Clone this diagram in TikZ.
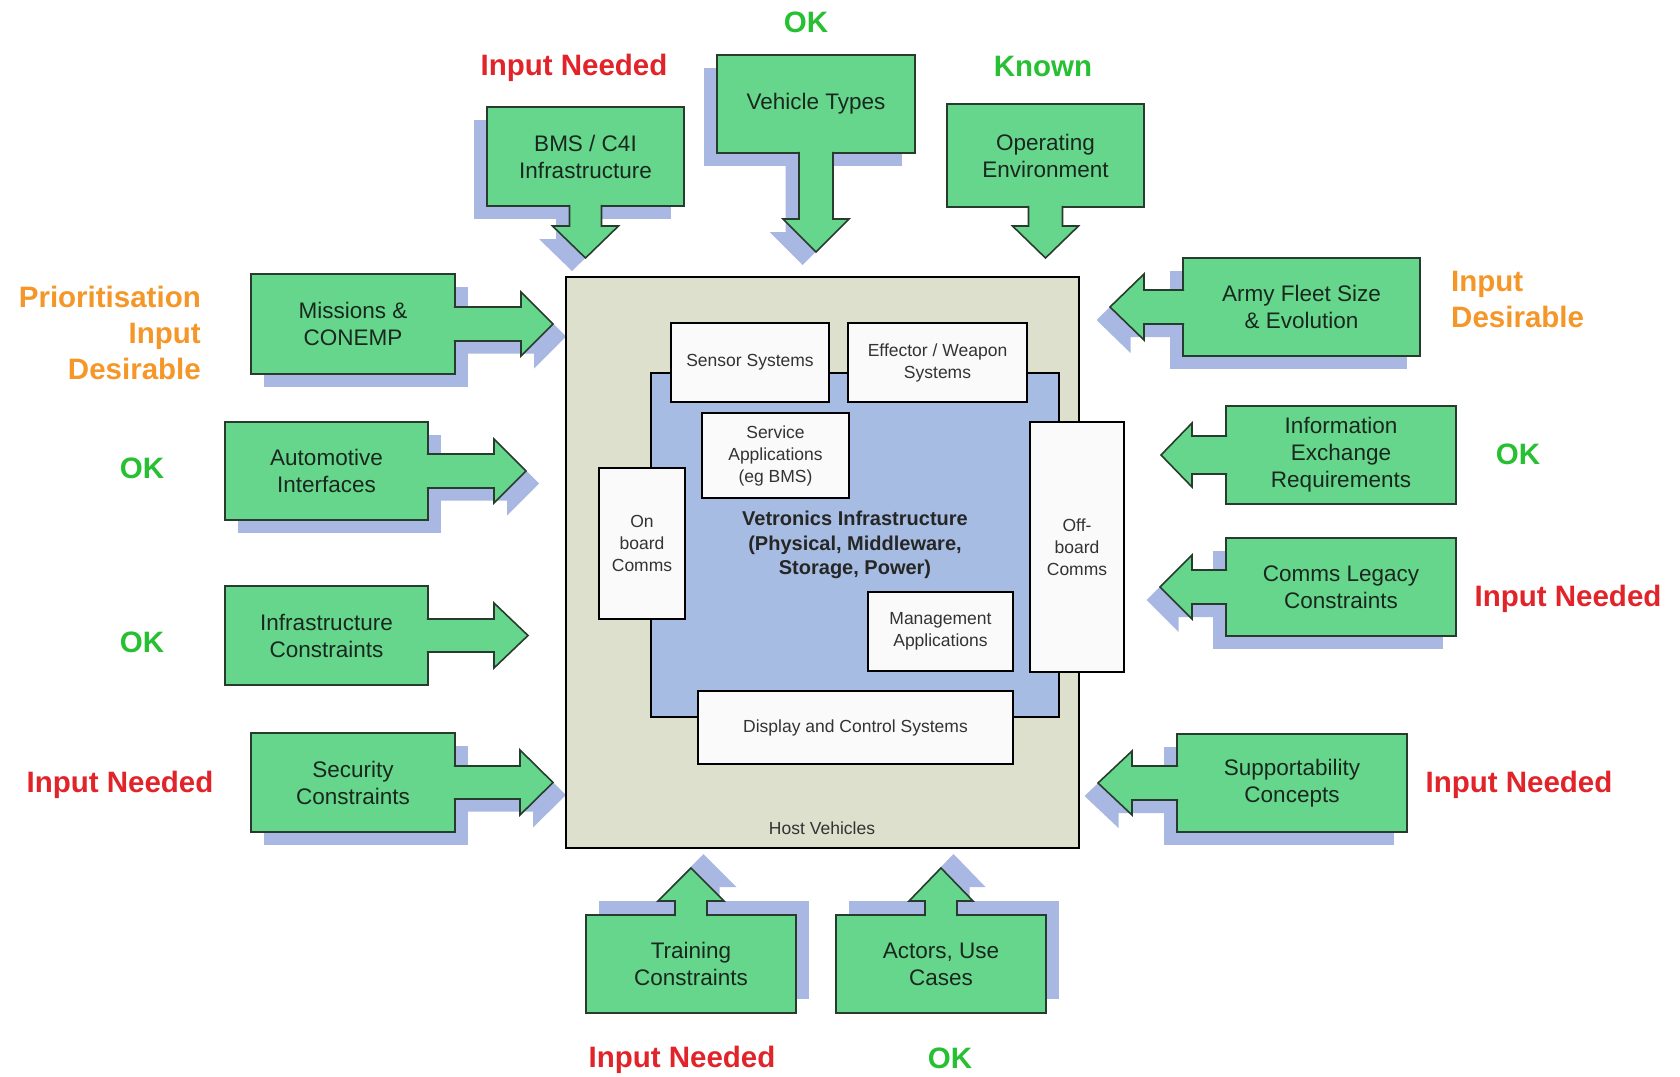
\documentclass[tikz,border=0pt]{standalone}
\usepackage{fontspec}
\setmainfont{Liberation Sans}
\usepackage{xcolor}
\usepackage{tikz}
\usetikzlibrary{calc, shadows}

\definecolor{boxgreen}{RGB}{102,214,140}
\definecolor{boxline}{RGB}{40,60,45}
\definecolor{boxtext}{RGB}{25,40,30}
\definecolor{shadowblue}{RGB}{168,184,226}
\definecolor{hostfill}{RGB}{221,224,205}
\definecolor{vetblue}{RGB}{166,188,226}
\definecolor{whitebox}{RGB}{250,250,250}
\definecolor{needred}{RGB}{225,35,42}
\definecolor{okgreen}{RGB}{38,192,50}
\definecolor{desorange}{RGB}{245,150,40}

\begin{document}
\begin{tikzpicture}[x=1pt,y=-1pt]
	\tikzstyle{callbox}=[rectangle,draw=boxline,fill=boxgreen,line width=1.6pt,outer sep=0pt,inner sep=0pt,align=center,text=boxtext,font=\fontsize{22.5}{27}\selectfont]
	\tikzstyle{callarrow}=[draw=boxline,fill=boxgreen,line width=1.6pt,line join=miter]
	\tikzstyle{shadowdl}=[drop shadow={fill=shadowblue,opacity=1,shadow xshift=-13.5pt,shadow yshift=-13pt}]
	\tikzstyle{shadowdr}=[drop shadow={fill=shadowblue,opacity=1,shadow xshift=13pt,shadow yshift=-12.5pt}]
	\tikzstyle{shadowur}=[drop shadow={fill=shadowblue,opacity=1,shadow xshift=12.5pt,shadow yshift=14pt}]
	\tikzstyle{inbox}=[rectangle,draw=black,fill=whitebox,line width=1.6pt,outer sep=0pt,inner sep=0pt,align=center,text=black!80,font=\fontsize{17.5}{22}\selectfont]
	\tikzstyle{lbl}=[inner sep=0pt,font=\bfseries\fontsize{29.5}{36}\selectfont]
	\useasboundingbox (0,0) rectangle (1680,1076);

	% inputs from above
	\node[callbox,shadowdl,minimum width=197pt,minimum height=99pt](bms) at (585.5,156.5){BMS / C4I\\Infrastructure};
	\draw[callarrow,shadowdl] ($(bms.south)+(-16,-1.2)$) -- ++(0,21.2) -- ++(-17,0) -- ++(33,32) -- ++(33,-32) -- ++(-17,0) -- ++(0,-21.2);
	\node[callbox,shadowdl,minimum width=198pt,minimum height=98pt](veh) at (816,104){Vehicle Types};
	\draw[callarrow,shadowdl] ($(veh.south)+(-17,-1.2)$) -- ++(0,67.2) -- ++(-16,0) -- ++(33,33) -- ++(33,-33) -- ++(-16,0) -- ++(0,-67.2);
	\node[callbox,minimum width=197pt,minimum height=103pt](openv) at (1045.5,155.5){Operating\\Environment};
	\draw[callarrow] ($(openv.south)+(-17,-1.2)$) -- ++(0,20.2) -- ++(-16,0) -- ++(33,32) -- ++(33,-32) -- ++(-16,0) -- ++(0,-20.2);

	% inputs from the left
	\node[callbox,shadowdr,minimum width=204pt,minimum height=100pt](mis) at (353,324){Missions \&\\CONEMP};
	\draw[callarrow,shadowdr] ($(mis.east)+(-1.2,-17)$) -- ++(67.2,0) -- ++(0,-15) -- ++(32,32) -- ++(-32,32) -- ++(0,-15) -- ++(-67.2,0);
	\node[callbox,shadowdr,minimum width=203pt,minimum height=98pt](auto) at (326.5,471){Automotive\\Interfaces};
	\draw[callarrow,shadowdr] ($(auto.east)+(-1.2,-17)$) -- ++(67.2,0) -- ++(0,-15) -- ++(32,32) -- ++(-32,32) -- ++(0,-15) -- ++(-67.2,0);
	\node[callbox,minimum width=203pt,minimum height=99pt](infra) at (326.5,635.5){Infrastructure\\Constraints};
	\draw[callarrow] ($(infra.east)+(-1.2,-16.5)$) -- ++(67.2,0) -- ++(0,-16) -- ++(34,32.5) -- ++(-34,32.5) -- ++(0,-16) -- ++(-67.2,0);
	\node[callbox,shadowdr,minimum width=204pt,minimum height=99pt](sec) at (353,782.5){Security\\Constraints};
	\draw[callarrow,shadowdr] ($(sec.east)+(-1.2,-16.5)$) -- ++(66.2,0) -- ++(0,-16) -- ++(33,32.5) -- ++(-33,32.5) -- ++(0,-16) -- ++(-66.2,0);

	% inputs from the right
	\node[callbox,shadowdl,minimum width=237pt,minimum height=98pt](fleet) at (1301.5,307){Army Fleet Size\\\& Evolution};
	\draw[callarrow,shadowdl] ($(fleet.west)+(1.2,-17)$) -- ++(-40.2,0) -- ++(0,-16) -- ++(-34,33) -- ++(34,33) -- ++(0,-16) -- ++(40.2,0);
	\node[callbox,minimum width=230pt,minimum height=98pt](ier) at (1341,455){Information\\Exchange\\Requirements};
	\draw[callarrow] ($(ier.west)+(1.2,-19)$) -- ++(-35.2,0) -- ++(0,-13) -- ++(-31,32) -- ++(31,32) -- ++(0,-13) -- ++(35.2,0);
	\node[callbox,shadowdl,minimum width=230pt,minimum height=98pt](legacy) at (1341,587){Comms Legacy\\Constraints};
	\draw[callarrow,shadowdl] ($(legacy.west)+(1.2,-17)$) -- ++(-35.2,0) -- ++(0,-15) -- ++(-32,32) -- ++(32,32) -- ++(0,-15) -- ++(35.2,0);
	\node[callbox,shadowdl,minimum width=230pt,minimum height=98pt](supp) at (1292,783){Supportability\\Concepts};
	\draw[callarrow,shadowdl] ($(supp.west)+(1.2,-17)$) -- ++(-46.2,0) -- ++(0,-15) -- ++(-34,32) -- ++(34,32) -- ++(0,-15) -- ++(46.2,0);

	% inputs from below
	\node[callbox,shadowur,minimum width=210pt,minimum height=98pt](train) at (691,964){Training\\Constraints};
	\draw[callarrow,shadowur] ($(train.north)+(-16,1.2)$) -- ++(0,-15.2) -- ++(-17,0) -- ++(33,-33) -- ++(33,33) -- ++(-17,0) -- ++(0,15.2);
	\node[callbox,shadowur,minimum width=210pt,minimum height=98pt](actors) at (941,964){Actors, Use\\Cases};
	\draw[callarrow,shadowur] ($(actors.north)+(-16,1.2)$) -- ++(0,-15.2) -- ++(-16,0) -- ++(32,-33) -- ++(32,33) -- ++(-16,0) -- ++(0,15.2);

	% host vehicle and vetronics
	\node[rectangle,draw=black,fill=hostfill,line width=1.6pt,minimum width=513pt,minimum height=571pt,outer sep=0pt](host) at (822.5,562.5){};
	\node[inner sep=0pt,text=black!80,font=\fontsize{17.5}{20}\selectfont](hostlbl) at (822,828){Host Vehicles};
	\node[rectangle,draw=black,fill=vetblue,line width=1.6pt,minimum width=408pt,minimum height=344pt,outer sep=0pt,align=center,text=black!85,font=\bfseries\fontsize{20}{24.5}\selectfont](vet) at (855,545){Vetronics Infrastructure\\(Physical, Middleware,\\Storage, Power)};
	\node[inbox,minimum width=158pt,minimum height=79pt](sensor) at (750,362.5){Sensor Systems};
	\node[inbox,minimum width=179pt,minimum height=79pt](effector) at (937.5,362.5){Effector / Weapon\\Systems};
	\node[inbox,minimum width=147pt,minimum height=85pt](service) at (775.5,455.5){Service\\Applications\\(eg BMS)};
	\node[inbox,minimum width=86pt,minimum height=151pt](onboard) at (642,543.5){On\\board\\Comms};
	\node[inbox,minimum width=94pt,minimum height=250pt](offboard) at (1077,547){Off-\\board\\Comms};
	\node[inbox,minimum width=145pt,minimum height=79pt](mgmt) at (940.5,631.5){Management\\Applications};
	\node[inbox,minimum width=315pt,minimum height=73pt](display) at (855.5,727.5){Display and Control Systems};

	% status labels
	\node[lbl,text=okgreen](stveh) at (806,22){OK};
	\node[lbl,text=needred](stbms) at (574,68){Input Needed};
	\node[lbl,text=okgreen](stenv) at (1043,66){Known};
	\node[lbl,text=desorange,align=right,anchor=east](stmis) at (201,332.5){Prioritisation\\Input\\Desirable};
	\node[lbl,text=okgreen](stauto) at (142,468){OK};
	\node[lbl,text=okgreen](stinfra) at (142,642){OK};
	\node[lbl,text=needred](stsec) at (120,785){Input Needed};
	\node[lbl,text=desorange,align=left,anchor=west](stfleet) at (1451,299.5){Input\\Desirable};
	\node[lbl,text=okgreen](stier) at (1518,454){OK};
	\node[lbl,text=needred](stlegacy) at (1568,599){Input Needed};
	\node[lbl,text=needred](stsupp) at (1519,785){Input Needed};
	\node[lbl,text=needred](sttrain) at (682,1060){Input Needed};
	\node[lbl,text=okgreen](stactors) at (950,1058){OK};
\end{tikzpicture}
\end{document}
